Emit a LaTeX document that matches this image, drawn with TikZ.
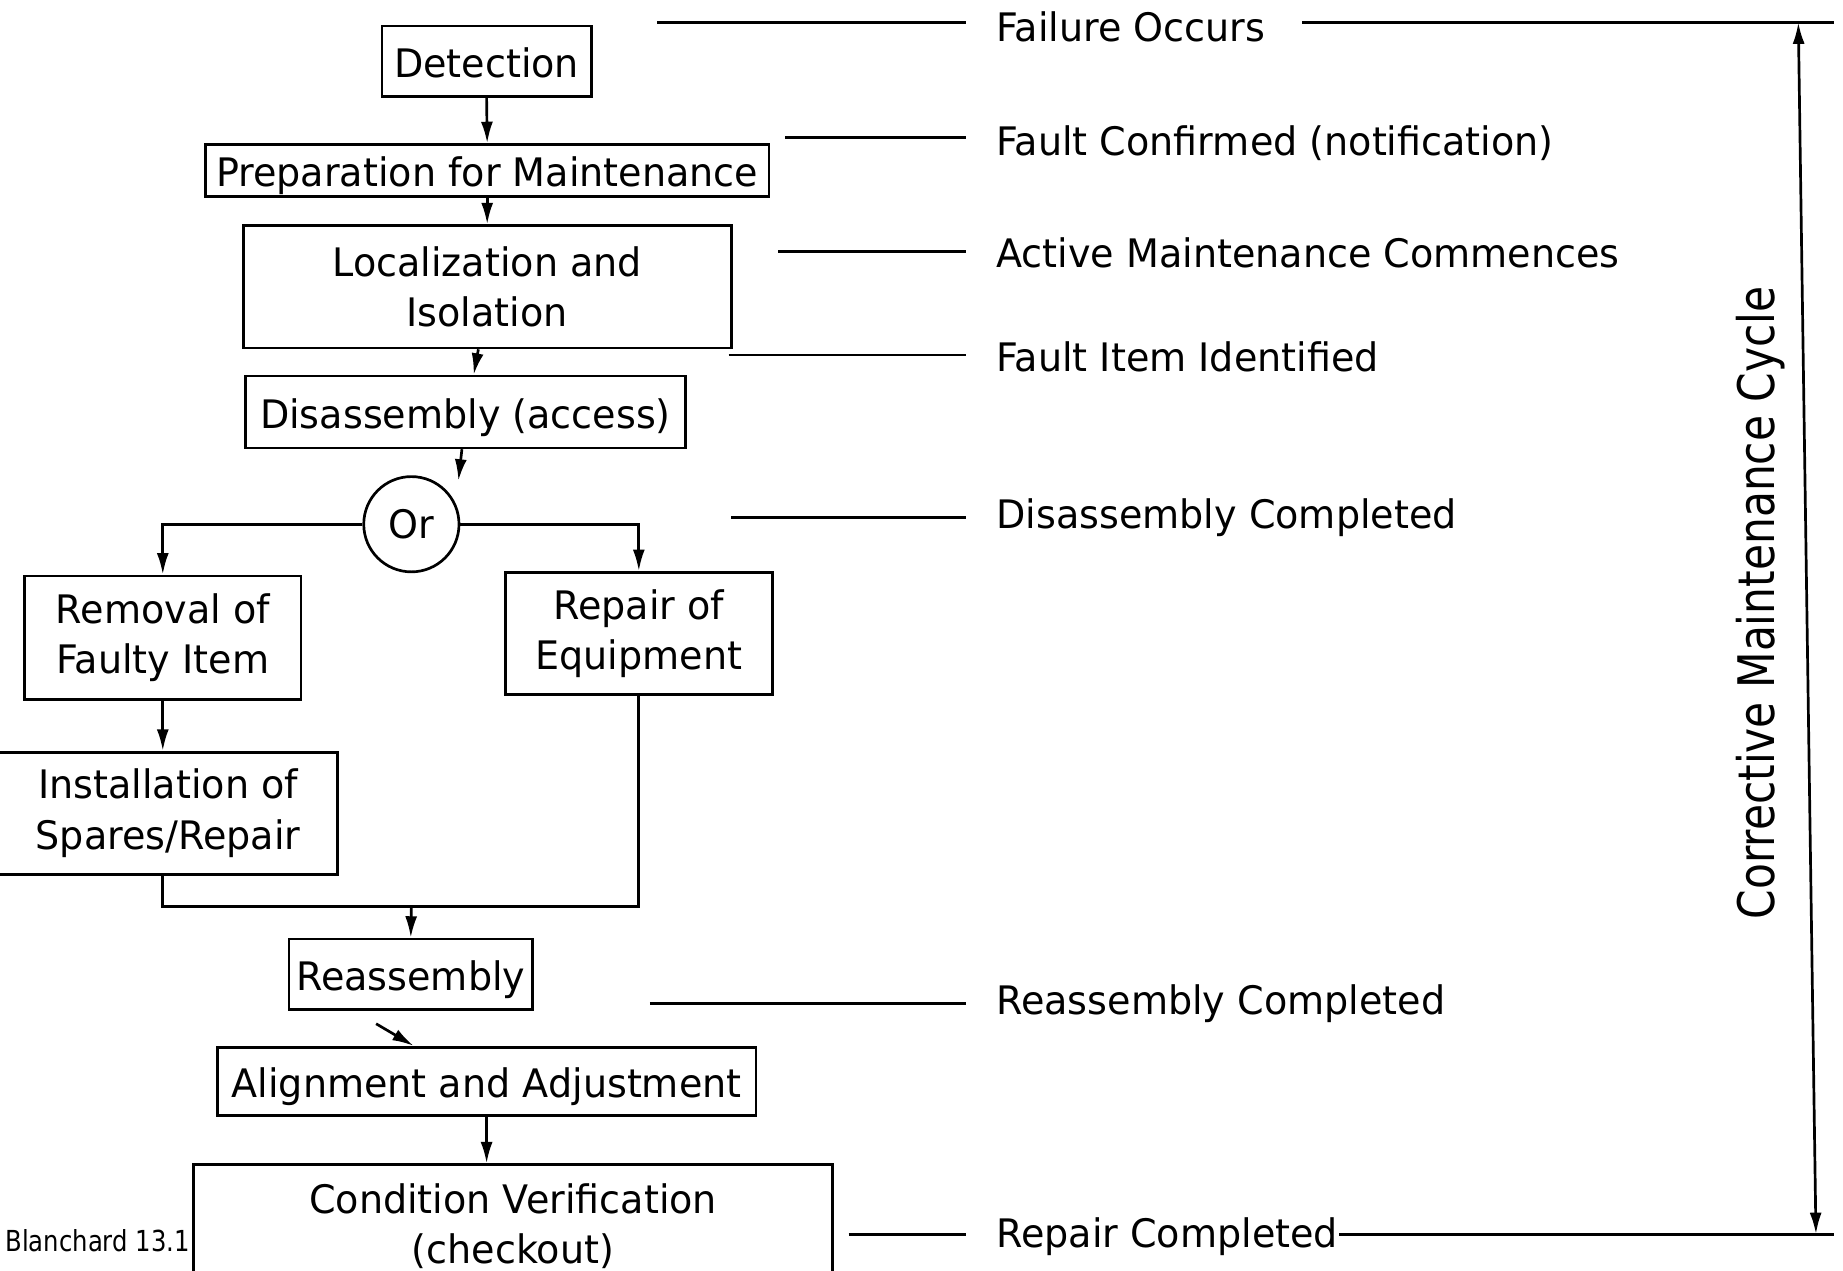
\documentclass[tikz,border=0pt]{standalone}
\usepackage{fontspec}
\setmainfont{DejaVu Sans}[FakeStretch=0.97]
\newfontfamily\rotfont{DejaVu Sans}[FakeStretch=0.84]
\newfontfamily\smallfont{DejaVu Sans}[FakeStretch=0.84]
\usetikzlibrary{arrows.meta,calc}
\tikzset{
  ln/.style={line width=0.65pt},
  arr/.style={ln,-{Latex[length=5.2pt,width=2.9pt]}},
  dblarr/.style={ln,{Latex[length=5.2pt,width=2.9pt]}-{Latex[length=5.2pt,width=2.9pt]}},
  box/.style={draw,ln,inner sep=0pt,align=center,font=\fontsize{9.5}{12.2}\selectfont},
  onebox/.style={box,text height=9pt,text depth=1pt},
  lab/.style={inner sep=0pt,anchor=base west,font=\fontsize{9.5}{12.2}\selectfont}
}
\begin{document}
\begin{tikzpicture}[x=0.01cm,y=-0.01cm]
\useasboundingbox (0,0) rectangle (1568,1081);
% boxes
\node[onebox,minimum width=1.78cm,minimum height=0.60cm] (det) at (414,52) {Detection};
\node[onebox,minimum width=4.79cm,minimum height=0.44cm] (prep) at (414.5,145) {Preparation for Maintenance};
\node[box,minimum width=4.15cm,minimum height=1.04cm] (loc) at (414.5,244) {Localization and\\Isolation};
\node[onebox,minimum width=3.74cm,minimum height=0.61cm] (dis) at (396,350.5) {Disassembly (access)};
\node[draw,ln,circle,inner sep=0pt,minimum size=0.81cm,font=\fontsize{9.5}{12.2}\selectfont] (or) at (350,446) {Or};
\node[box,minimum width=2.35cm,minimum height=1.05cm] (rem) at (138.5,542.5) {Removal of\\Faulty Item};
\node[box,minimum width=2.27cm,minimum height=1.04cm] (rep) at (543.5,539) {Repair of\\Equipment};
\node[box,minimum width=2.88cm,minimum height=1.04cm] (inst) at (143,692) {Installation of\\Spares/Repair};
\node[onebox,minimum width=2.07cm,minimum height=0.60cm] (reas) at (349.5,829) {Reassembly};
\node[onebox,minimum width=4.58cm,minimum height=0.58cm] (ali) at (414,920) {Alignment and Adjustment};
\node[box,minimum width=5.43cm,minimum height=1.04cm] (cond) at (436.5,1043) {Condition Verification\\(checkout)};
\node[inner sep=0pt,anchor=base west,font=\smallfont\fontsize{7}{8}\selectfont] (bl) at (4,1065) {Blanchard 13.1};
% connectors
\draw[arr] (det.south) -- (prep.north);
\draw[arr] (prep.south) -- (loc.north);
\draw[arr] ($(loc.south)+(-7.5,0)$) -- ($(dis.north)+(7,0)$);
\coordinate (ortip) at (390,409);
\draw[arr] ($(dis.south)+(-3,0)$) -- (ortip);
\draw[arr] (or.west) -| (rem.north);
\draw[arr] (or.east) -| (rep.north);
\draw[arr] (rem.south) -- (rem.south |- inst.north);
\coordinate (mer) at (350,771);
\draw[ln] (inst.south -| rem.south) |- (rep.south |- mer) -- (rep.south);
\draw[arr] (mer) -- (reas.north);
\coordinate (alstart) at (320,871);
\draw[arr] (alstart) -- ($(ali.north)+(-62,0)$);
\draw[arr] (ali.south) -- (ali.south |- cond.north);
% milestone labels
\node[lab] (l1) at (847,35) {Failure Occurs};
\node[lab] (l2) at (847,132) {Fault Confirmed (notification)};
\node[lab] (l3) at (847,228) {Active Maintenance Commences};
\node[lab] (l4) at (847,316) {Fault Item Identified};
\node[lab] (l5) at (847,450) {Disassembly Completed};
\node[lab] (l6) at (847,863) {Reassembly Completed};
\node[lab] (l7) at (847,1061) {Repair Completed};
\draw[ln] (559,19) -- (822,19);
\draw[ln] (1108,19) -- (1560,19);
\draw[ln] (668,117) -- (822,117);
\draw[ln] (662,214) -- (822,214);
\draw[ln] (620,302) -- (822,302);
\draw[ln] (622,440) -- (822,440);
\draw[ln] (553,854) -- (822,854);
\draw[ln] (722,1050) -- (822,1050);
\draw[ln] (l7.east |- 0,1050) -- (1560,1050);
\coordinate (ctop) at (1530,19);
\coordinate (cbot) at (1545,1050);
\draw[dblarr] (ctop) -- (cbot);
\node[inner sep=0pt,rotate=90,font=\rotfont\fontsize{12.2}{14}\selectfont] (cyc) at (1498,513) {Corrective Maintenance Cycle};
\end{tikzpicture}
\end{document}
